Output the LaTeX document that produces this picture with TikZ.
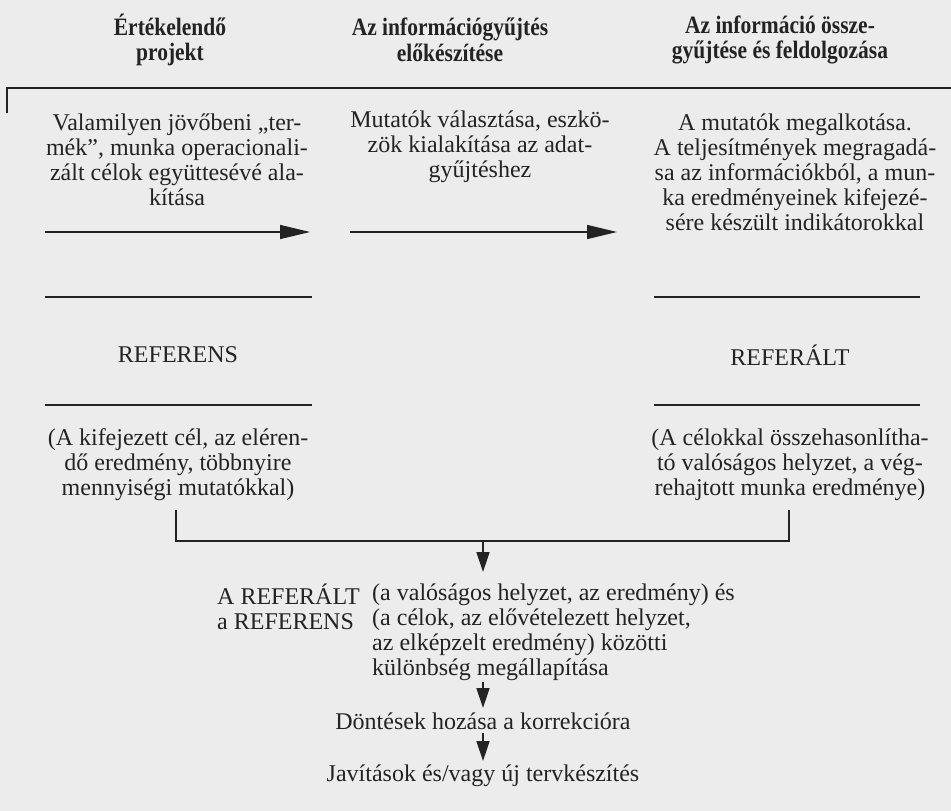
\documentclass[tikz,border=0pt]{standalone}
\usepackage{fontspec}
\usepackage{graphicx}
\setmainfont{Liberation Serif}
\usetikzlibrary{arrows.meta}
\definecolor{bg}{RGB}{236,236,236}
\definecolor{ink}{RGB}{35,35,35}
\newcommand{\hdline}[1]{\scalebox{0.86}[1]{#1}}
\begin{document}
\begin{tikzpicture}[x=1pt,y=-1pt,
  txt/.style={font=\fontsize{24}{25}\selectfont, text=ink, align=center, inner sep=0pt},
  lefttxt/.style={txt, align=left, anchor=west},
  head/.style={font=\fontsize{25}{25.5}\selectfont\bfseries, text=ink, align=center, inner sep=0pt},
  rule/.style={draw=ink, line width=1.4pt},
  harr/.style={rule, -{Triangle[length=30pt,width=14pt]}},
  varr/.style={rule, -{Triangle[length=20pt,width=13pt]}}]
\fill[bg] (0,0) rectangle (951,811);
\useasboundingbox (0,0) rectangle (951,811);

% headers
\node[head] (h1) at (170,40) {\hdline{Értékelendő}\\\hdline{projekt}};
\node[head] (h2) at (450,40) {\hdline{Az információgyűjtés}\\\hdline{előkészítése}};
\node[head] (h3) at (780,40) {\hdline{Az információ össze-}\\\hdline{gyűjtése és feldolgozása}};

% top rule
\coordinate (tl1) at (7,113);
\coordinate (tl2) at (7,88);
\coordinate (tl3) at (951,88);
\draw[rule] (tl1) -- (tl2) -- (tl3);

% column texts
\node[txt] (c1) at (177,160) {Valamilyen jövőbeni „ter-\\mék”, munka operacionali-\\zált célok együttesévé ala-\\kítása};
\node[txt] (c2) at (480,147) {Mutatók választása, eszkö-\\zök kialakítása az adat-\\gyűjtéshez};
\node[txt] (c3) at (795,172) {A mutatók megalkotása.\\A teljesítmények megragadá-\\sa az információkból, a mun-\\ka eredményeinek kifejezé-\\sére készült indikátorokkal};

% horizontal arrows
\coordinate (a1s) at (45,232);
\coordinate (a1e) at (310,232);
\coordinate (a2s) at (350,232);
\coordinate (a2e) at (617,232);
\draw[harr] (a1s) -- (a1e);
\draw[harr] (a2s) -- (a2e);

% REFERENS block
\coordinate (l1a) at (45,297);  \coordinate (l1b) at (312,297);
\coordinate (l2a) at (45,405);  \coordinate (l2b) at (312,405);
\coordinate (r1a) at (654,297); \coordinate (r1b) at (920,297);
\coordinate (r2a) at (654,405); \coordinate (r2b) at (920,405);
\draw[rule] (l1a) -- (l1b);
\draw[rule] (l2a) -- (l2b);
\draw[rule] (r1a) -- (r1b);
\draw[rule] (r2a) -- (r2b);
\node[txt] (ref) at (178,355) {REFERENS};
\node[txt] (refa) at (790,355) {REFERÁLT};
\node[txt] (p1) at (178,465) {(A kifejezett cél, az eléren-\\dő eredmény, többnyire\\mennyiségi mutatókkal)};
\node[txt] (p2) at (790,465) {(A célokkal összehasonlítha-\\tó valóságos helyzet, a vég-\\rehajtott munka eredménye)};

% bracket
\coordinate (b1) at (176,510);
\coordinate (b2) at (176,541);
\coordinate (b3) at (789,541);
\coordinate (b4) at (789,510);
\coordinate (bm) at (483,541);
\coordinate (bt) at (483,572);
\draw[rule] (b1) -- (b2) -- (b3) -- (b4);
\draw[varr] (bm) -- (bt);

% difference
\node[lefttxt] (dl) at (217,607) {A REFERÁLT\\a REFERENS};
\node[lefttxt] (dr) at (372,632) {(a valóságos helyzet, az eredmény) és\\(a célok, az elővételezett helyzet,\\az elképzelt eredmény) közötti\\különbség megállapítása};

\coordinate (d1s) at (483,682);
\coordinate (d1e) at (483,708);
\draw[varr] (d1s) -- (d1e);
\node[txt] (dont) at (483,721) {Döntések hozása a korrekcióra};
\coordinate (d2s) at (483,733);
\coordinate (d2e) at (483,761);
\draw[varr] (d2s) -- (d2e);
\node[txt] (jav) at (483,776) {Javítások és/vagy új tervkészítés};
\end{tikzpicture}
\end{document}
